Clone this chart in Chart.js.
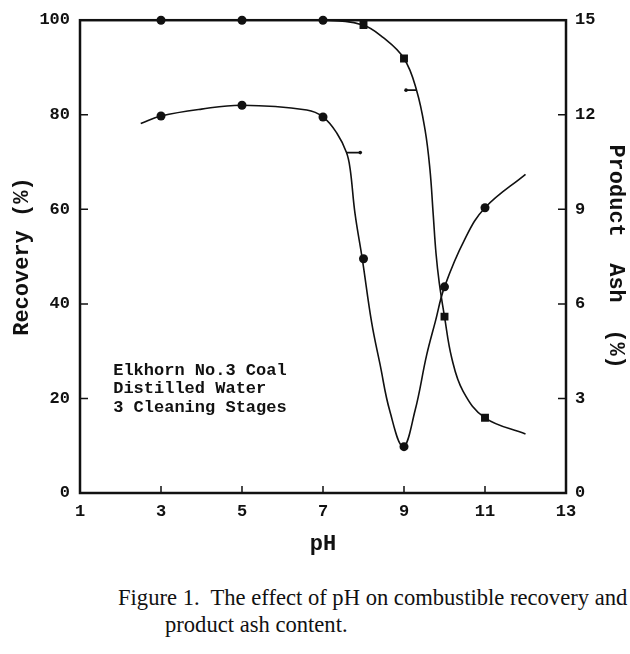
<!DOCTYPE html>
<html>
<head>
<meta charset="utf-8">
<title>Effect of pH</title>
<script src="https://cdn.jsdelivr.net/npm/chart.js@4.4.1/dist/chart.umd.min.js"></script>
<style>
  body { margin: 0; background: #fff; }
  #wrap { position: relative; width: 630px; height: 654px; }
  #chart-box { position: absolute; left: 0; top: 0; width: 630px; height: 565px; }
  .cap { position: absolute; font-family: "Liberation Serif", serif; font-size: 22.6px; color: #111; white-space: pre; }
</style>
</head>
<body>
<div id="wrap">
  <div id="chart-box"><canvas id="chart" width="630" height="565"></canvas></div>
  <div class="cap" style="left:118px; top:585px;">Figure 1.  The effect of pH on combustible recovery and</div>
  <div class="cap" style="left:165px; top:612px;">product ash content.</div>
</div>
<script>
// axis ticks
var phTicks = [1, 3, 5, 7, 9, 11, 13];
var recoveryTicks = [0, 20, 40, 60, 80, 100];
var ashTicks = [0, 3, 6, 9, 12, 15];

// measured points
var phMeasured = [3, 5, 7, 8, 9, 10, 11];
var recoveryMeasured = [100, 100, 100, 99.0, 91.9, 37.3, 15.9];
var recoveryShapes = ['circle', 'circle', 'circle', 'rect', 'rect', 'rect', 'rect'];
var ashMeasured = [11.96, 12.3, 11.93, 7.43, 1.47, 6.54, 9.05];

// fitted curves as drawn in the figure
var phRecoveryCurve = [3, 5, 7, 7.98, 8.49, 9.0, 9.31, 9.52, 9.64, 9.72, 9.79, 9.87, 10.0, 10.18, 10.46, 11.0, 12.0];
var recoveryCurve = [100, 100, 100, 99.0, 96.3, 91.9, 85.2, 76.8, 68.5, 59.1, 50.7, 44.5, 37.3, 28.5, 21.5, 15.9, 12.5];
var phAshCurve = [2.5, 3.0, 4.0, 5.0, 6.6, 7.0, 7.34, 7.58, 7.67, 7.79, 7.97, 8.2, 8.41, 8.65, 8.98, 9.27, 9.56, 9.77, 10.0, 10.5, 11.0, 12.0];
var ashCurve = [11.72, 11.96, 12.18, 12.3, 12.15, 11.93, 11.42, 10.8, 10.28, 8.87, 7.43, 5.42, 4.07, 2.6, 1.47, 2.6, 4.38, 5.42, 6.54, 8.05, 9.05, 10.11];

// little axis pointers on the curves
var ashPointerPh = [7.58, 7.92];
var ashPointerVal = [10.8, 10.8];
var recPointerPh = [9.05, 9.31];
var recPointerVal = [85.2, 85.2];

var noteLines = ['Elkhorn No.3 Coal', 'Distilled Water', '3 Cleaning Stages'];

function pairs(xs, ys) {
  var out = [];
  for (var i = 0; i < xs.length; i++) out.push({x: xs[i], y: ys[i]});
  return out;
}

var monoFont = 'Liberation Mono';
var ink = '#111';

var framePlugin = {
  id: 'frame',
  afterDatasetsDraw: function(chart) {
    var ctx = chart.ctx, a = chart.chartArea;
    var sx = chart.scales.x, sy = chart.scales.y, sy1 = chart.scales.y1;
    ctx.save();
    ctx.strokeStyle = ink;
    ctx.lineWidth = 1.5;
    ctx.beginPath();
    phTicks.forEach(function(v) {
      var px = sx.getPixelForValue(v);
      ctx.moveTo(px, a.bottom); ctx.lineTo(px, a.bottom - 7);
    });
    recoveryTicks.forEach(function(v) {
      var py = sy.getPixelForValue(v);
      ctx.moveTo(a.left, py); ctx.lineTo(a.left + 8, py);
    });
    ashTicks.forEach(function(v) {
      var py = sy1.getPixelForValue(v);
      ctx.moveTo(a.right, py); ctx.lineTo(a.right - 8, py);
    });
    ctx.stroke();
    ctx.lineWidth = 2.5;
    ctx.strokeRect(a.left, a.top, a.right - a.left, a.bottom - a.top);

    // note text
    ctx.fillStyle = ink;
    ctx.font = 'bold 17px "' + monoFont + '"';
    ctx.textBaseline = 'middle';
    ctx.textAlign = 'left';
    var tx = sx.getPixelForValue(1.82);
    var ty = sy.getPixelForValue(25.9);
    noteLines.forEach(function(t, i) {
      ctx.fillText(t, tx, ty + i * 18.5);
    });
    ctx.restore();
  }
};

var tickFont = {family: monoFont, size: 17, weight: 'bold'};
var titleFont = {family: monoFont, size: 22, weight: 'bold'};

var chart = new Chart(document.getElementById('chart').getContext('2d'), {
  type: 'line',
  data: {
    datasets: [
      {
        label: 'Recovery curve',
        data: pairs(phRecoveryCurve, recoveryCurve),
        yAxisID: 'y',
        borderColor: ink, borderWidth: 1.6,
        pointRadius: 0, tension: 0.4, fill: false, clip: 4
      },
      {
        label: 'Recovery',
        data: pairs(phMeasured, recoveryMeasured),
        yAxisID: 'y',
        showLine: false,
        pointStyle: recoveryShapes,
        pointRadius: recoveryShapes.map(function(s) { return s === 'rect' ? 5.6 : 4.5; }),
        pointBackgroundColor: ink, pointBorderColor: ink, pointBorderWidth: 0, clip: 8
      },
      {
        label: 'Ash curve',
        data: pairs(phAshCurve, ashCurve),
        yAxisID: 'y1',
        borderColor: ink, borderWidth: 1.6,
        pointRadius: 0, tension: 0.4, fill: false
      },
      {
        label: 'Product Ash',
        data: pairs(phMeasured, ashMeasured),
        yAxisID: 'y1',
        showLine: false,
        pointStyle: 'circle', pointRadius: 4.5,
        pointBackgroundColor: ink, pointBorderColor: ink, pointBorderWidth: 0
      },
      {
        label: 'ash pointer',
        data: pairs(ashPointerPh, ashPointerVal),
        yAxisID: 'y1',
        borderColor: ink, borderWidth: 1.6,
        pointRadius: [0, 1.8], pointBackgroundColor: ink, pointBorderWidth: 0
      },
      {
        label: 'recovery pointer',
        data: pairs(recPointerPh, recPointerVal),
        yAxisID: 'y',
        borderColor: ink, borderWidth: 1.6,
        pointRadius: [1.8, 0], pointBackgroundColor: ink, pointBorderWidth: 0
      }
    ]
  },
  options: {
    responsive: false,
    animation: false,
    layout: {padding: {top: 14, left: 0, right: 0, bottom: 0}},
    plugins: {legend: {display: false}, tooltip: {enabled: false}},
    scales: {
      x: {
        type: 'linear', min: 1, max: 13,
        afterBuildTicks: function(s) { s.ticks = phTicks.map(function(v) { return {value: v}; }); },
        ticks: {font: tickFont, color: ink, padding: 9, maxRotation: 0},
        grid: {display: false, drawTicks: false},
        border: {display: false},
        title: {display: true, text: 'pH', font: titleFont, color: ink, padding: {top: 0, bottom: 7}},
        afterFit: function(s) { s.height = 72; }
      },
      y: {
        type: 'linear', position: 'left', min: 0, max: 100,
        afterBuildTicks: function(s) { s.ticks = recoveryTicks.map(function(v) { return {value: v}; }); },
        ticks: {font: tickFont, color: ink, padding: 10},
        grid: {display: false, drawTicks: false},
        border: {display: false},
        title: {display: true, text: 'Recovery (%)', font: titleFont, color: ink, padding: {top: 9, bottom: 0}},
        afterFit: function(s) { s.width = 80; }
      },
      y1: {
        type: 'linear', position: 'right', min: 0, max: 15,
        afterBuildTicks: function(s) { s.ticks = ashTicks.map(function(v) { return {value: v}; }); },
        ticks: {font: tickFont, color: ink, padding: 9},
        grid: {display: false, drawTicks: false},
        border: {display: false},
        title: {display: true, text: 'Product  Ash  (%)', font: titleFont, color: ink, padding: {top: 1, bottom: 0}},
        afterFit: function(s) { s.width = 64; }
      }
    }
  },
  plugins: [framePlugin]
});
</script>
</body>
</html>
